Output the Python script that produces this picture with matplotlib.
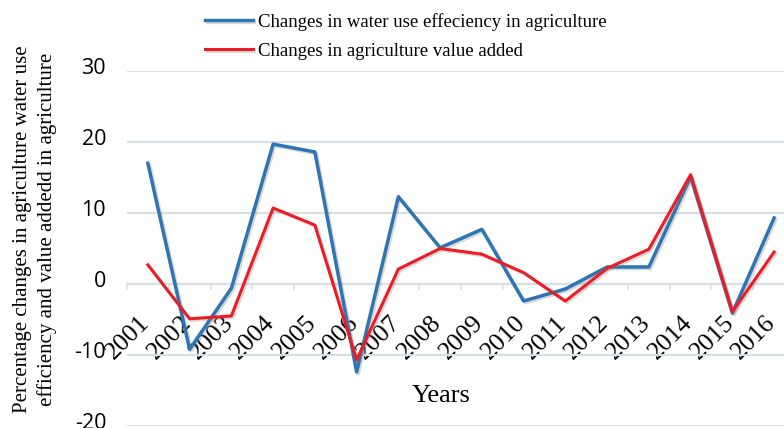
import numpy as np
import matplotlib
matplotlib.use("Agg")
import matplotlib.pyplot as plt
import matplotlib.transforms as mtransforms
import matplotlib.patheffects as pe

years = [str(y) for y in range(2001, 2017)]
water_eff = [17.0, -9.2, -0.6, 19.7, 18.6, -12.4, 12.3, 5.1, 7.7, -2.4,
             -0.7, 2.4, 2.4, 15.1, -4.1, 9.3]
value_added = [2.7, -4.9, -4.5, 10.7, 8.3, -10.7, 2.1, 5.0, 4.2, 1.6,
               -2.4, 2.2, 4.9, 15.4, -3.9, 4.5]
label_water = "Changes in water use effeciency in agriculture"
label_value = "Changes in agriculture value added"
yticks = [-20, -10, 0, 10, 20, 30]

serif = "Liberation Serif"
sans = "Open Sans"
grid_col = "#d9dee6"

fig = plt.figure(figsize=(7.84, 4.28), dpi=100)
ax = fig.add_axes([127 / 784, 2 / 428, (795 - 127) / 784, (426 - 71) / 428])

x = np.arange(len(years))
shadow = [pe.SimpleLineShadow(offset=(1.2, -1.2), shadow_color="gray", alpha=0.3),
          pe.Normal()]
l1, = ax.plot(x, water_eff, color="#2e75b6", lw=2.5, label=label_water,
              path_effects=shadow, zorder=3)
l2, = ax.plot(x, value_added, color="#ed1c24", lw=2.2, label=label_value,
              path_effects=shadow, zorder=4)

ax.set_xlim(-0.5, len(years) - 0.5)
ax.set_ylim(-20, 30)

# horizontal grid, category axis sits on zero
ax.set_yticks(yticks)
ax.set_yticklabels([str(v) for v in yticks])
ax.yaxis.grid(True, color=grid_col, lw=1.5)
ax.set_axisbelow(True)
for s in ["top", "right", "left"]:
    ax.spines[s].set_visible(False)
ax.spines["bottom"].set_position(("data", 0))
ax.spines["bottom"].set_color(grid_col)
ax.spines["bottom"].set_linewidth(1.5)

ax.set_xticks(x)
ax.set_xticklabels(years, rotation=45, ha="right", va="top",
                   fontfamily=serif, fontsize=18.5)
ax.set_xticks(np.arange(-0.5, len(years), 1), minor=True)
ax.tick_params(axis="x", which="major", length=0, pad=20)
ax.tick_params(axis="x", which="minor", length=4.5, width=1.1, color=grid_col)
ax.tick_params(axis="y", length=0, pad=15)
for lab in ax.get_yticklabels():
    lab.set_fontfamily(sans)
    lab.set_fontsize(15.5)

dx = mtransforms.ScaledTranslation(6 / 100, 0, fig.dpi_scale_trans)
for lab in ax.get_xticklabels():
    lab.set_transform(lab.get_transform() + dx)
dy = mtransforms.ScaledTranslation(0, 5 / 100, fig.dpi_scale_trans)
for lab in ax.get_yticklabels():
    lab.set_transform(lab.get_transform() + dy)

fig.text(35 / 784, (428 - 229) / 428,
         "Percentage changes in agriculture water use\nefficiency and value addedd in agriculture",
         rotation=90, ha="center", va="center", multialignment="center",
         fontfamily=serif, fontsize=15, linespacing=1.3)
fig.text(441 / 784, (428 - 396) / 428, "Years", ha="center", va="center",
         fontfamily=serif, fontsize=19)

fig.legend(handles=[l1, l2], loc="upper left",
           bbox_to_anchor=(205 / 784, (428 - 13) / 428), frameon=False,
           prop={"family": serif, "size": 13.5}, handlelength=2.55,
           handletextpad=0.28, labelspacing=0.62, borderpad=0, borderaxespad=0)

fig.savefig("out.png", dpi=100)
